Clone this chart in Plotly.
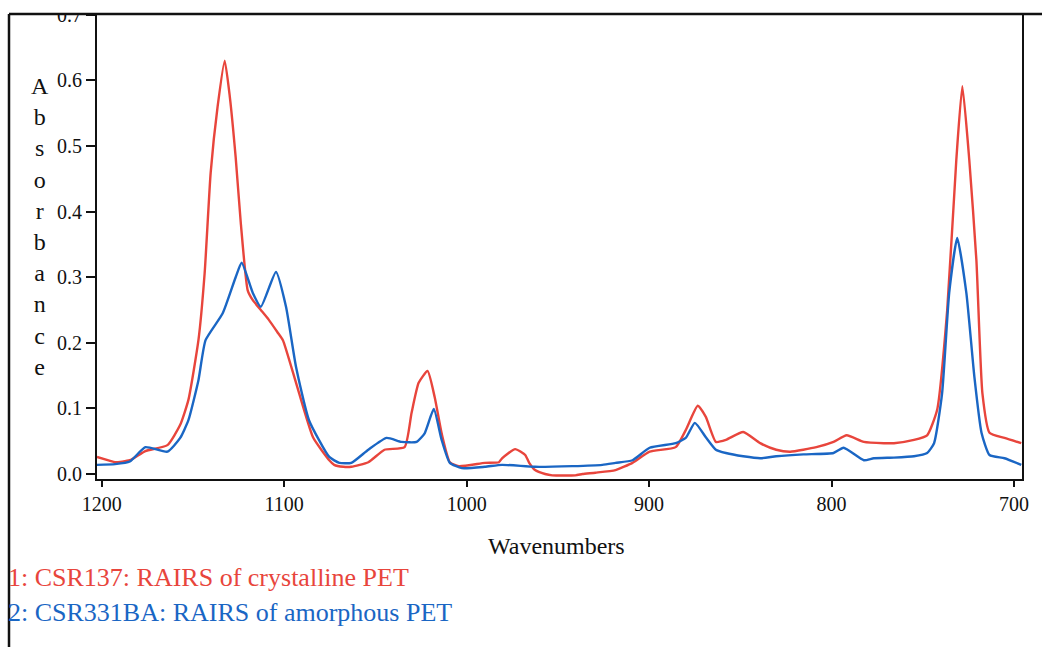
import plotly.graph_objects as go

# ---- data (wavenumber, absorbance) ----
wn_crystalline = [1202.6, 1195.4, 1192.7, 1184.6, 1176.1, 1164.0, 1157.0, 1152.5, 1147.0, 1143.6,
                  1140.3, 1136.5, 1132.6, 1129.8, 1126.6, 1123.8, 1120.0, 1117.2, 1112.8, 1108.4,
                  1103.4, 1100.7, 1093.5, 1084.2, 1075.3, 1072.6, 1067.6, 1063.2, 1053.9, 1045.0,
                  1034.0, 1030.2, 1026.3, 1021.4, 1017.5, 1013.7, 1009.2, 1004.3, 990.0, 982.3,
                  980.6, 973.4, 967.9, 965.7, 962.5, 957.0, 953.1, 940.4, 936.5, 929.4,
                  918.4, 909.1, 899.7, 885.4, 879.9, 873.3, 868.9, 863.4, 857.9, 848.4,
                  839.1, 830.3, 822.6, 808.3, 798.9, 791.7, 782.3, 771.3, 765.8, 754.8,
                  747.6, 742.1, 736.6, 731.6, 728.3, 724.5, 720.6, 717.3, 713.4, 705.2, 696.0]
abs_crystalline = [0.026, 0.020, 0.018, 0.021, 0.035, 0.044, 0.075, 0.113, 0.204, 0.306,
                   0.459, 0.560, 0.630, 0.575, 0.483, 0.383, 0.280, 0.265, 0.250, 0.235,
                   0.215, 0.204, 0.139, 0.056, 0.021, 0.014, 0.011, 0.011, 0.018, 0.037,
                   0.041, 0.093, 0.139, 0.157, 0.117, 0.062, 0.018, 0.012, 0.017, 0.018,
                   0.024, 0.038, 0.029, 0.017, 0.006, 0.000, -0.002, -0.002, 0.000, 0.002,
                   0.006, 0.017, 0.034, 0.041, 0.067, 0.104, 0.087, 0.049, 0.052, 0.064,
                   0.047, 0.037, 0.034, 0.041, 0.049, 0.059, 0.049, 0.047, 0.047, 0.052,
                   0.059, 0.098, 0.250, 0.479, 0.591, 0.479, 0.326, 0.123, 0.063, 0.055, 0.047]

wn_amorphous = [1202.6, 1192.7, 1184.6, 1176.1, 1164.0, 1157.0, 1152.5, 1147.0, 1143.1, 1133.7,
                1126.6, 1123.3, 1117.2, 1112.8, 1104.5, 1099.0, 1093.5, 1086.4, 1075.3, 1069.8,
                1063.2, 1053.9, 1043.9, 1035.7, 1027.4, 1023.0, 1018.0, 1013.7, 1009.2, 1002.6,
                990.0, 980.6, 962.5, 942.1, 925.6, 918.4, 909.1, 899.7, 885.4, 879.9,
                874.9, 868.9, 863.4, 857.9, 848.4, 839.1, 830.3, 815.4, 798.9, 793.4,
                782.3, 776.8, 765.8, 754.8, 747.6, 743.8, 739.4, 735.5, 731.1, 726.1,
                721.7, 717.8, 713.4, 705.2, 696.0]
abs_amorphous = [0.014, 0.015, 0.019, 0.041, 0.034, 0.055, 0.082, 0.143, 0.204, 0.245,
                 0.300, 0.322, 0.276, 0.255, 0.308, 0.255, 0.163, 0.082, 0.026, 0.017,
                 0.017, 0.037, 0.055, 0.049, 0.049, 0.062, 0.099, 0.052, 0.017, 0.009,
                 0.011, 0.014, 0.011, 0.012, 0.014, 0.017, 0.021, 0.040, 0.047, 0.055,
                 0.078, 0.056, 0.037, 0.032, 0.027, 0.024, 0.027, 0.030, 0.032, 0.040,
                 0.021, 0.024, 0.025, 0.027, 0.032, 0.047, 0.123, 0.276, 0.360, 0.276,
                 0.148, 0.063, 0.029, 0.024, 0.014]

x_tick_vals = [1200, 1100, 1000, 900, 800, 700]
y_tick_vals = [0.0, 0.1, 0.2, 0.3, 0.4, 0.5, 0.6, 0.7]

label_crystalline = "1: CSR137: RAIRS of crystalline PET"
label_amorphous = "2: CSR331BA: RAIRS of amorphous PET"
x_title = "Wavenumbers"
y_title = "Absorbance"

RED = "#E8453C"
BLUE = "#1A66C4"
SERIF = "Liberation Serif, Times New Roman, serif"

W, H = 1042, 647
L, R, T, B = 97, 20, 14, 168
PW, PH = W - L - R, H - T - B


def px(x):
    return (x - L) / PW


def py(y):
    return (H - B - y) / PH


fig = go.Figure()
fig.add_trace(go.Scatter(x=wn_crystalline, y=abs_crystalline, mode="lines",
                         line=dict(color=RED, width=2.4, shape="spline", smoothing=0.5),
                         name=label_crystalline, showlegend=False))
fig.add_trace(go.Scatter(x=wn_amorphous, y=abs_amorphous, mode="lines",
                         line=dict(color=BLUE, width=2.4, shape="spline", smoothing=0.5),
                         name=label_amorphous, showlegend=False))

axis_font = dict(family=SERIF, size=20, color="#111111")
fig.update_xaxes(range=[1202.6, 695.6], tickvals=x_tick_vals, ticks="outside", ticklen=6,
                 tickwidth=2, tickcolor="#111", showline=True, linecolor="#111", linewidth=2,
                 showgrid=False, zeroline=False, tickfont=axis_font, mirror=False,
                 automargin=False)
fig.update_yaxes(range=[-0.0076, 0.7012], tickvals=y_tick_vals, tickformat=".1f",
                 ticks="outside", ticklen=9, tickwidth=2, tickcolor="#111", showline=True,
                 linecolor="#111", linewidth=2, showgrid=False, zeroline=False,
                 tickfont=axis_font, mirror=True, automargin=False)

shapes = [
    # white cover above the top frame line (reference is cropped there)
    dict(type="rect", xref="paper", yref="paper", x0=px(-5), x1=px(W + 5), y0=py(13), y1=py(-5),
         fillcolor="white", line=dict(width=0), layer="above"),
    # outer frame: top line and left line
    dict(type="line", xref="paper", yref="paper", x0=px(9), x1=px(W + 2), y0=py(14), y1=py(14),
         line=dict(color="#111", width=2.5), layer="above"),
    dict(type="line", xref="paper", yref="paper", x0=px(9), x1=px(9), y0=py(14), y1=py(H + 5),
         line=dict(color="#111", width=2.5), layer="above"),
]

annotations = [
    dict(text="<br>".join(list(y_title)), xref="paper", yref="paper", x=px(40), y=py(226),
         xanchor="center", yanchor="middle", showarrow=False,
         font=dict(family=SERIF, size=24, color="#111")),
    dict(text=x_title, xref="paper", yref="paper", x=px(556), y=py(546),
         xanchor="center", yanchor="middle", showarrow=False,
         font=dict(family=SERIF, size=24, color="#111")),
    dict(text=label_crystalline, xref="paper", yref="paper", x=px(6), y=py(577),
         xanchor="left", yanchor="middle", showarrow=False,
         font=dict(family=SERIF, size=26, color=RED)),
    dict(text=label_amorphous, xref="paper", yref="paper", x=px(6), y=py(612),
         xanchor="left", yanchor="middle", showarrow=False,
         font=dict(family=SERIF, size=26, color=BLUE)),
]

fig.update_layout(width=W, height=H, margin=dict(l=L, r=R, t=T, b=B, pad=0, autoexpand=False),
                  paper_bgcolor="white", plot_bgcolor="white", showlegend=False,
                  shapes=shapes, annotations=annotations)

fig.write_html("out.html", config={"displayModeBar": False},
               post_script="document.body.style.margin='0';document.body.style.overflow='hidden';")
